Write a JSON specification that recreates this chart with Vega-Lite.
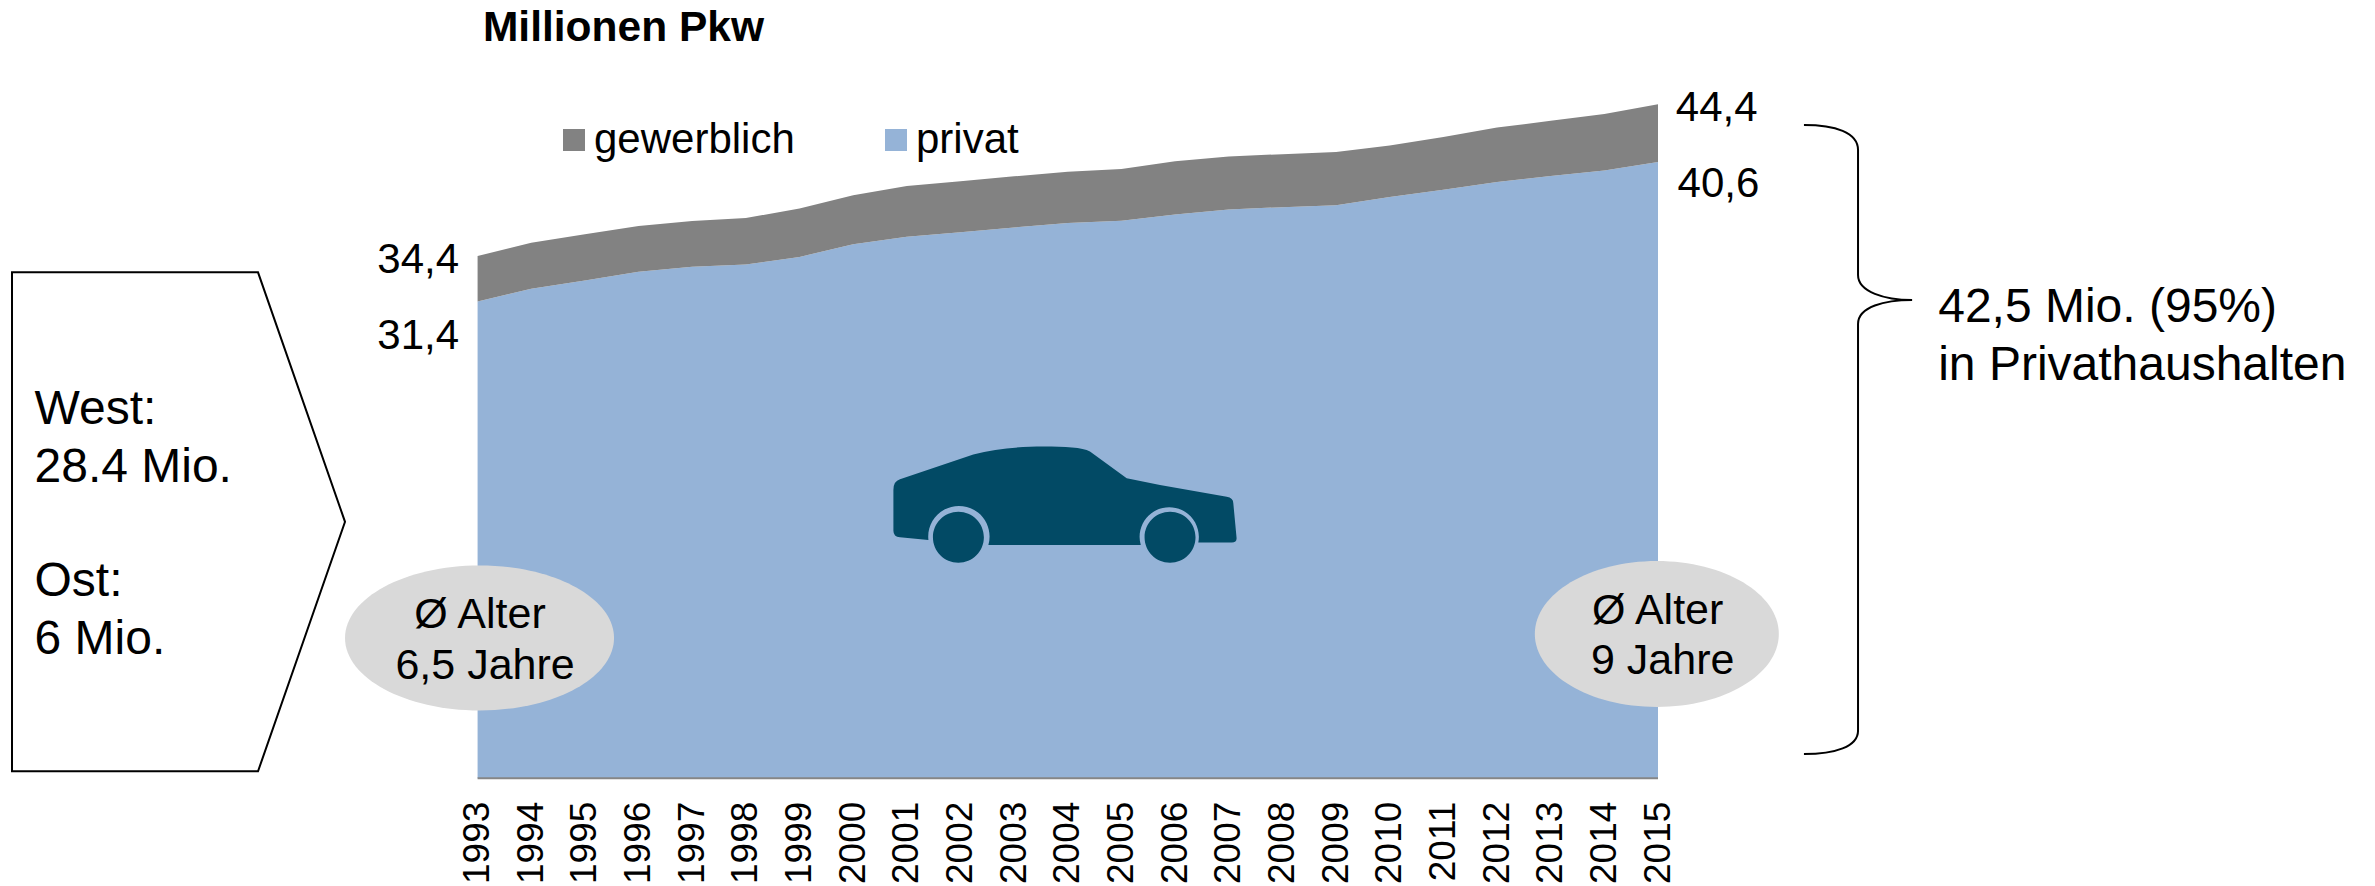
{
"$schema":"https://vega.github.io/schema/vega-lite/v6.json",
"autosize":{"type":"none"},"padding":0,"width":2375,"height":886,"background":"#ffffff",
"config":{"view":{"stroke":null},"font":"Liberation Sans","text":{"font":"Liberation Sans","baseline":"alphabetic","color":"#000000"}},
"encoding":{
"x":{"field":"year","type":"quantitative","scale":{"domain":[1984.099,2028.363],"nice":false,"zero":false},
"axis":{"orient":"bottom","offset":-107.8,"title":null,"values":[1993,1994,1995,1996,1997,1998,1999,2000,2001,2002,2003,2004,2005,2006,2007,2008,2009,2010,2011,2012,2013,2014,2015],"format":"d","labelAngle":-90,"labelFontSize":37,"labelFont":"Liberation Sans","labelColor":"#000000","labelPadding":23,"labelOverlap":false,"labelBound":false,"labelFlush":false,"domain":false,"ticks":false,"grid":false}},
"y":{"field":"value","type":"quantitative","scale":{"domain":[-7.101,51.265],"nice":false,"zero":false},"axis":null}
},
"layer":[
{"data":{"values":[
{"year":1993,"type":"privat","value":31.4},{"year":1994,"type":"privat","value":32.25},{"year":1995,"type":"privat","value":32.79},{"year":1996,"type":"privat","value":33.36},{"year":1997,"type":"privat","value":33.69},{"year":1998,"type":"privat","value":33.84},{"year":1999,"type":"privat","value":34.34},{"year":2000,"type":"privat","value":35.17},{"year":2001,"type":"privat","value":35.67},{"year":2002,"type":"privat","value":35.96},{"year":2003,"type":"privat","value":36.28},{"year":2004,"type":"privat","value":36.57},{"year":2005,"type":"privat","value":36.72},{"year":2006,"type":"privat","value":37.14},{"year":2007,"type":"privat","value":37.46},{"year":2008,"type":"privat","value":37.62},{"year":2009,"type":"privat","value":37.75},{"year":2010,"type":"privat","value":38.29},{"year":2011,"type":"privat","value":38.77},{"year":2012,"type":"privat","value":39.28},{"year":2013,"type":"privat","value":39.67},{"year":2014,"type":"privat","value":40.04},{"year":2015,"type":"privat","value":40.6},
{"year":1993,"type":"gewerblich","value":3.0},{"year":1994,"type":"gewerblich","value":3.03},{"year":1995,"type":"gewerblich","value":3.04},{"year":1996,"type":"gewerblich","value":3.01},{"year":1997,"type":"gewerblich","value":3.01},{"year":1998,"type":"gewerblich","value":3.06},{"year":1999,"type":"gewerblich","value":3.19},{"year":2000,"type":"gewerblich","value":3.23},{"year":2001,"type":"gewerblich","value":3.34},{"year":2002,"type":"gewerblich","value":3.36},{"year":2003,"type":"gewerblich","value":3.37},{"year":2004,"type":"gewerblich","value":3.38},{"year":2005,"type":"gewerblich","value":3.41},{"year":2006,"type":"gewerblich","value":3.51},{"year":2007,"type":"gewerblich","value":3.5},{"year":2008,"type":"gewerblich","value":3.49},{"year":2009,"type":"gewerblich","value":3.51},{"year":2010,"type":"gewerblich","value":3.39},{"year":2011,"type":"gewerblich","value":3.47},{"year":2012,"type":"gewerblich","value":3.58},{"year":2013,"type":"gewerblich","value":3.64},{"year":2014,"type":"gewerblich","value":3.71},{"year":2015,"type":"gewerblich","value":3.8}
]},
"mark":{"type":"area","interpolate":"linear"},
"encoding":{"color":{"field":"type","type":"nominal","scale":{"domain":["gewerblich","privat"],"range":["#828282","#95B3D7"]},
"legend":{"orient":"none","legendX":553,"legendY":119,"direction":"horizontal","title":null,"symbolType":"square","symbolSize":484,"symbolStrokeWidth":0,"labelFontSize":42,"labelFont":"Liberation Sans","labelColor":"#000000","labelOffset":-1,"labelLimit":400,"columnPadding":80,"rowPadding":0}}}},
{"data":{"values":[{"year":1993,"year2":2015,"value":0}]},"mark":{"type":"rule","color":"#868686","strokeWidth":2},"encoding":{"x2":{"field":"year2"}}},
{"data":{"values":[{"year":1987.426,"value":16.891}]},"mark":{"type":"point","shape":"M-0.6404,-0.9596L0.3058,-0.9596L0.6404,0L0.3058,0.9596L-0.6404,0.9596Z","size":270400,"filled":true,"fill":"#ffffff","stroke":"#000000","strokeWidth":2,"opacity":1}},
{"data":{"values":[{"year":1993.036,"value":9.242}]},"mark":{"type":"point","shape":"M-1,0A1,0.539 0 1 1 1,0A1,0.539 0 1 1 -1,0Z","size":72361,"filled":true,"fill":"#D9D9D9","strokeWidth":0,"opacity":1}},
{"data":{"values":[{"year":2014.978,"value":9.499}]},"mark":{"type":"point","shape":"M-1,0A1,0.598 0 1 1 1,0A1,0.598 0 1 1 -1,0Z","size":59536,"filled":true,"fill":"#D9D9D9","strokeWidth":0,"opacity":1}},
{"data":{"values":[{"year":2003.948,"value":18.02}]},"mark":{"type":"point","shape":"M-0.990,-0.085Q-0.990,-0.135,-0.952,-0.146L-0.529,-0.290C-0.40,-0.325,-0.25,-0.335,-0.125,-0.335C0.0,-0.335,0.10,-0.33,0.144,-0.306L0.356,-0.152L0.548,-0.113L0.933,-0.046Q0.971,-0.04,0.971,-0.008L0.990,0.194Q0.99,0.219,0.962,0.219L0.769,0.219A0.171,0.171 0 1 0 0.437,0.233L-0.442,0.233A0.177,0.177 0 1 0 -0.788,0.204L-0.952,0.188Q-0.99,0.185,-0.990,0.150ZM-0.762,0.1875A0.147,0.147 0 1 1 -0.468,0.1875A0.147,0.147 0 1 1 -0.762,0.1875ZM0.459,0.1875A0.147,0.147 0 1 1 0.753,0.1875A0.147,0.147 0 1 1 0.459,0.1875Z","size":120178,"filled":true,"fill":"#024A65","strokeWidth":0,"opacity":1}},
{"data":{"values":[{"year":2018.728,"value":22.31}]},"mark":{"type":"point","shape":"M-0.169,-0.983C-0.072,-0.983,0,-0.96,0,-0.905L0,-0.514C0,-0.461,0.084,-0.436,0.169,-0.436C0.084,-0.436,0,-0.415,0,-0.361L0,0.910C0,0.96,-0.072,0.983,-0.169,0.983","size":409600,"filled":false,"stroke":"#000000","strokeWidth":2,"opacity":1}},
{"data":{"values":[{"year":1993.1,"value":48.58,"label":"Millionen Pkw"}]},"mark":{"type":"text","fontSize":42.5,"fontWeight":"bold","align":"left"},"encoding":{"text":{"field":"label","type":"nominal"}}},
{"data":{"values":[{"year":1992.654,"value":33.25,"label":"34,4"},{"year":1992.654,"value":28.3,"label":"31,4"}]},"mark":{"type":"text","fontSize":42,"align":"right"},"encoding":{"text":{"field":"label","type":"nominal"}}},
{"data":{"values":[{"year":2015.332,"value":43.27,"label":"44,4"},{"year":2015.364,"value":38.29,"label":"40,6"}]},"mark":{"type":"text","fontSize":42,"align":"left"},"encoding":{"text":{"field":"label","type":"nominal"}}},
{"data":{"values":[{"year":1984.742,"value":23.36,"label":"West:"},{"year":1984.742,"value":19.54,"label":"28.4 Mio."},{"year":1984.742,"value":12.0,"label":"Ost:"},{"year":1984.742,"value":8.18,"label":"6 Mio."}]},"mark":{"type":"text","fontSize":48,"align":"left"},"encoding":{"text":{"field":"label","type":"nominal"}}},
{"data":{"values":[{"year":1993.045,"value":9.89,"label":"Ø Alter"},{"year":1993.139,"value":6.55,"label":"6,5 Jahre"},{"year":2014.993,"value":10.19,"label":"Ø Alter"},{"year":2015.088,"value":6.86,"label":"9 Jahre"}]},"mark":{"type":"text","fontSize":43,"align":"center"},"encoding":{"text":{"field":"label","type":"nominal"}}},
{"data":{"values":[{"year":2020.222,"value":30.05,"label":"42,5 Mio. (95%)"},{"year":2020.222,"value":26.23,"label":"in Privathaushalten"}]},"mark":{"type":"text","fontSize":48,"align":"left"},"encoding":{"text":{"field":"label","type":"nominal"}}}
]
}
